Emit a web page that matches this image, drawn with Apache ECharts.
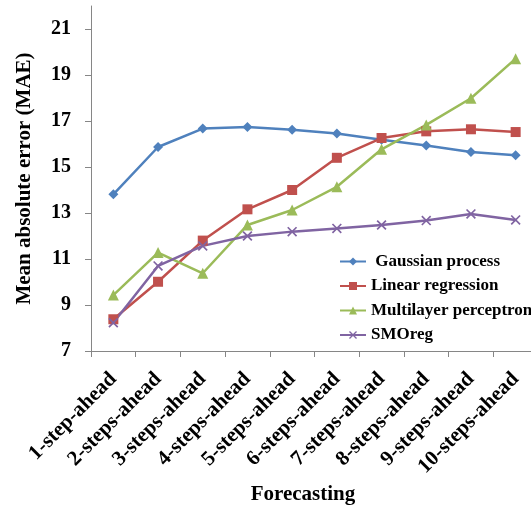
<!DOCTYPE html>
<html>
<head>
<meta charset="utf-8">
<script src="https://cdn.jsdelivr.net/npm/echarts@6/dist/echarts.min.js"></script>
<style>
  html, body { margin: 0; padding: 0; background: #fff; }
  #chart { width: 531px; height: 508px; }
</style>
</head>
<body>
<div id="chart"></div>
<script>
// Forecast horizons
const categories = [
  '1-step-ahead', '2-steps-ahead', '3-steps-ahead', '4-steps-ahead', '5-steps-ahead',
  '6-steps-ahead', '7-steps-ahead', '8-steps-ahead', '9-steps-ahead', '10-steps-ahead'
];

// Mean absolute error per model
const gaussianProcess   = [13.81, 15.87, 16.67, 16.74, 16.62, 16.46, 16.18, 15.93, 15.65, 15.51];
const linearRegression  = [8.38, 10.01, 11.80, 13.16, 14.00, 15.40, 16.26, 16.55, 16.64, 16.52];
const multilayerPercept = [9.43, 11.28, 10.38, 12.48, 13.13, 14.14, 15.77, 16.83, 17.99, 19.71];
const smoReg            = [8.23, 10.70, 11.57, 12.00, 12.19, 12.33, 12.48, 12.67, 12.96, 12.70];

const yTicks = [7, 9, 11, 13, 15, 17, 19, 21];

const SERIF = '"Liberation Serif", "DejaVu Serif", serif';
const crossSymbol = 'path://M0,1.2L1.2,0L10,8.8L8.8,10Z M8.8,0L10,1.2L1.2,10L0,8.8Z';

function lineSeries(name, data, color, symbol, size) {
  return {
    name, type: 'line', data,
    symbol, symbolSize: size,
    lineStyle: { color, width: 2.5 },
    itemStyle: { color },
    emphasis: { disabled: true }
  };
}

const chart = echarts.init(document.getElementById('chart'));
chart.setOption({
  animation: false,
  backgroundColor: '#ffffff',
  grid: {
    left: 91, top: 6, width: 447, bottom: 157,
    containLabel: false, outerBoundsMode: 'none'
  },
  legend: {
    orient: 'vertical',
    left: 339, top: 253,
    padding: 0,
    itemWidth: 26, itemHeight: 10, itemGap: 7.5,
    textStyle: { fontFamily: SERIF, fontWeight: 'bold', fontSize: 17, color: '#000' },
    formatter: name => name === 'Gaussian process' ? ' ' + name : name,
    data: ['Gaussian process', 'Linear regression', 'Multilayer perceptron', 'SMOreg']
  },
  xAxis: {
    type: 'category',
    data: categories,
    boundaryGap: true,
    name: 'Forecasting',
    nameLocation: 'middle',
    nameGap: 131,
    nameTextStyle: { fontFamily: SERIF, fontWeight: 'bold', fontSize: 21, color: '#000', padding: [0, 23, 0, 0] },
    axisLine: { lineStyle: { color: '#868686', width: 1 } },
    axisTick: { show: true, length: 6, alignWithLabel: false, lineStyle: { color: '#868686' } },
    axisLabel: {
      interval: 0, rotate: 45, margin: 25,
      fontFamily: SERIF, fontWeight: 'bold', fontSize: 21, color: '#000'
    },
    splitLine: { show: false }
  },
  yAxis: {
    type: 'value',
    min: 7, max: 22, interval: 2,
    name: 'Mean absolute error (MAE)',
    nameLocation: 'middle',
    nameGap: 56,
    nameTextStyle: { fontFamily: SERIF, fontWeight: 'bold', fontSize: 21, color: '#000' },
    axisLine: { show: true, lineStyle: { color: '#868686', width: 1 } },
    axisTick: { show: true, length: 6, customValues: yTicks, lineStyle: { color: '#868686' } },
    axisLabel: {
      customValues: yTicks, margin: 20,
      fontFamily: SERIF, fontWeight: 'bold', fontSize: 20, color: '#000'
    },
    splitLine: { show: false }
  },
  series: [
    lineSeries('Gaussian process', gaussianProcess, '#4F81BD', 'diamond', 10),
    lineSeries('Linear regression', linearRegression, '#C0504D', 'rect', 10),
    lineSeries('Multilayer perceptron', multilayerPercept, '#9BBB59', 'triangle', 11),
    lineSeries('SMOreg', smoReg, '#8064A2', crossSymbol, 10)
  ]
});
</script>
</body>
</html>
